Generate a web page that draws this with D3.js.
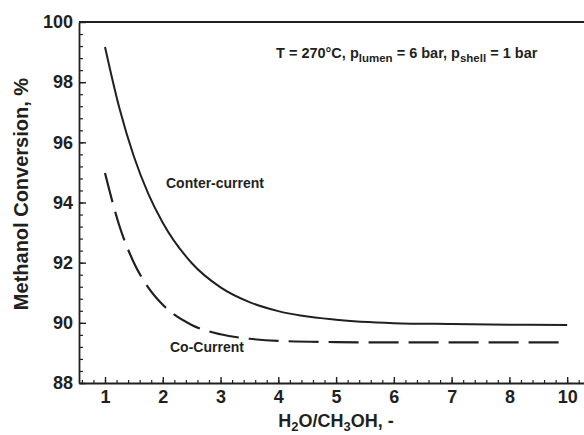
<!DOCTYPE html>
<html>
<head>
<meta charset="utf-8">
<script src="https://cdn.jsdelivr.net/npm/d3@7"></script>
<style>
  body { margin: 0; background: #fff; }
  svg text { font-family: "Liberation Sans", Arial, sans-serif; font-weight: bold; fill: #231f20; }
</style>
</head>
<body>
<div id="chart"></div>
<script>
// values (x in axis units, y in %)
const ratio = [1, 1.25, 1.5, 1.75, 2, 2.5, 3, 3.5, 4, 5, 6, 7, 8, 9];
const counterCurrent = [99.17, 97.13, 95.53, 94.29, 93.33, 91.99, 91.18, 90.69, 90.39, 90.10, 89.99, 89.96, 89.94, 89.93];
const coCurrent = [94.98, 93.22, 92.00, 91.17, 90.60, 89.93, 89.62, 89.47, 89.40, 89.36, 89.35, 89.35, 89.35, 89.35];
const xTicks = [1, 2, 3, 4, 5, 6, 7, 8, 9];
const xTickLabels = ['1', '2', '3', '4', '5', '6', '7', '8', '10'];
const yTicks = [88, 90, 92, 94, 96, 98, 100];

const W = 584, H = 435;
const margin = { left: 79, top: 22, bottom: 52 };
const ink = '#231f20';

const svg = d3.select('#chart').append('svg')
    .attr('width', W)
    .attr('height', H);

const x = d3.scaleLinear().domain([0.55, 9.3]).range([margin.left, W + 0.5]);
const y = d3.scaleLinear().domain([88, 100]).range([H - margin.bottom, margin.top]);

// minor ticks
const xMinor = d3.range(0.6, 9.3, 0.2);
const yMinor = d3.range(88, 100.01, 0.4);

svg.append('g')
    .attr('transform', `translate(0,${y(88)})`)
    .call(d3.axisBottom(x).tickValues(xMinor).tickSize(-3).tickFormat('').tickSizeOuter(0))
    .call(g => g.select('.domain').remove())
    .selectAll('line').attr('stroke', ink).attr('stroke-width', 1.2);

svg.append('g')
    .attr('transform', `translate(${x(0.55)},0)`)
    .call(d3.axisLeft(y).tickValues(yMinor).tickSize(-4).tickFormat('').tickSizeOuter(0))
    .call(g => g.select('.domain').remove())
    .selectAll('line').attr('stroke', ink).attr('stroke-width', 1.2);

// major axes
const xAxis = svg.append('g')
    .attr('transform', `translate(0,${y(88)})`)
    .call(d3.axisBottom(x).tickValues(xTicks).tickSize(-6).tickPadding(7).tickSizeOuter(0)
        .tickFormat((d, i) => xTickLabels[i]));

const yAxis = svg.append('g')
    .attr('transform', `translate(${x(0.55)},0)`)
    .call(d3.axisLeft(y).tickValues(yTicks).tickSize(-7).tickPadding(6).tickSizeOuter(0));

[xAxis, yAxis].forEach(g => {
    g.select('.domain').attr('stroke', ink).attr('stroke-width', 1.8);
    g.selectAll('.tick line').attr('stroke', ink).attr('stroke-width', 1.4);
    g.selectAll('.tick text')
        .attr('fill', ink)
        .style('font-size', '18px')
        .style('font-family', '"Liberation Sans", Arial, sans-serif')
        .style('font-weight', 'bold');
});

// top frame line
svg.append('line')
    .attr('x1', x(0.55)).attr('x2', W)
    .attr('y1', y(100)).attr('y2', y(100))
    .attr('stroke', ink).attr('stroke-width', 1.8);

const line = d3.line()
    .x((d, i) => x(ratio[i]))
    .y(d => y(d))
    .curve(d3.curveMonotoneX);

svg.append('path')
    .datum(counterCurrent)
    .attr('d', line)
    .attr('fill', 'none')
    .attr('stroke', ink)
    .attr('stroke-width', 2);

svg.append('path')
    .datum(coCurrent)
    .attr('d', line)
    .attr('fill', 'none')
    .attr('stroke', ink)
    .attr('stroke-width', 2.2)
    .attr('stroke-dasharray', '30,10');

// labels on curves
svg.append('text')
    .attr('x', 166).attr('y', 188)
    .style('font-size', '14px')
    .text('Conter-current');

svg.append('text')
    .attr('x', 170).attr('y', 352)
    .style('font-size', '14px')
    .text('Co-Current');

// conditions note
const note = svg.append('text')
    .attr('x', 276).attr('y', 58)
    .style('font-size', '14.5px');
note.append('tspan').text('T = 270°C, p');
note.append('tspan').attr('dy', 4).style('font-size', '11.5px').text('lumen');
note.append('tspan').attr('dy', -4).text(' = 6 bar, p');
note.append('tspan').attr('dy', 4).style('font-size', '11.5px').text('shell');
note.append('tspan').attr('dy', -4).text(' = 1 bar');

// axis titles
const xt = svg.append('text')
    .attr('x', 336).attr('y', 427)
    .attr('text-anchor', 'middle')
    .style('font-size', '18px');
xt.append('tspan').text('H');
xt.append('tspan').attr('dy', 4).style('font-size', '13px').text('2');
xt.append('tspan').attr('dy', -4).text('O/CH');
xt.append('tspan').attr('dy', 4).style('font-size', '13px').text('3');
xt.append('tspan').attr('dy', -4).text('OH, -');

svg.append('text')
    .attr('transform', `translate(28,${194}) rotate(-90)`)
    .attr('text-anchor', 'middle')
    .style('font-size', '20px')
    .text('Methanol Conversion, %');
</script>
</body>
</html>
